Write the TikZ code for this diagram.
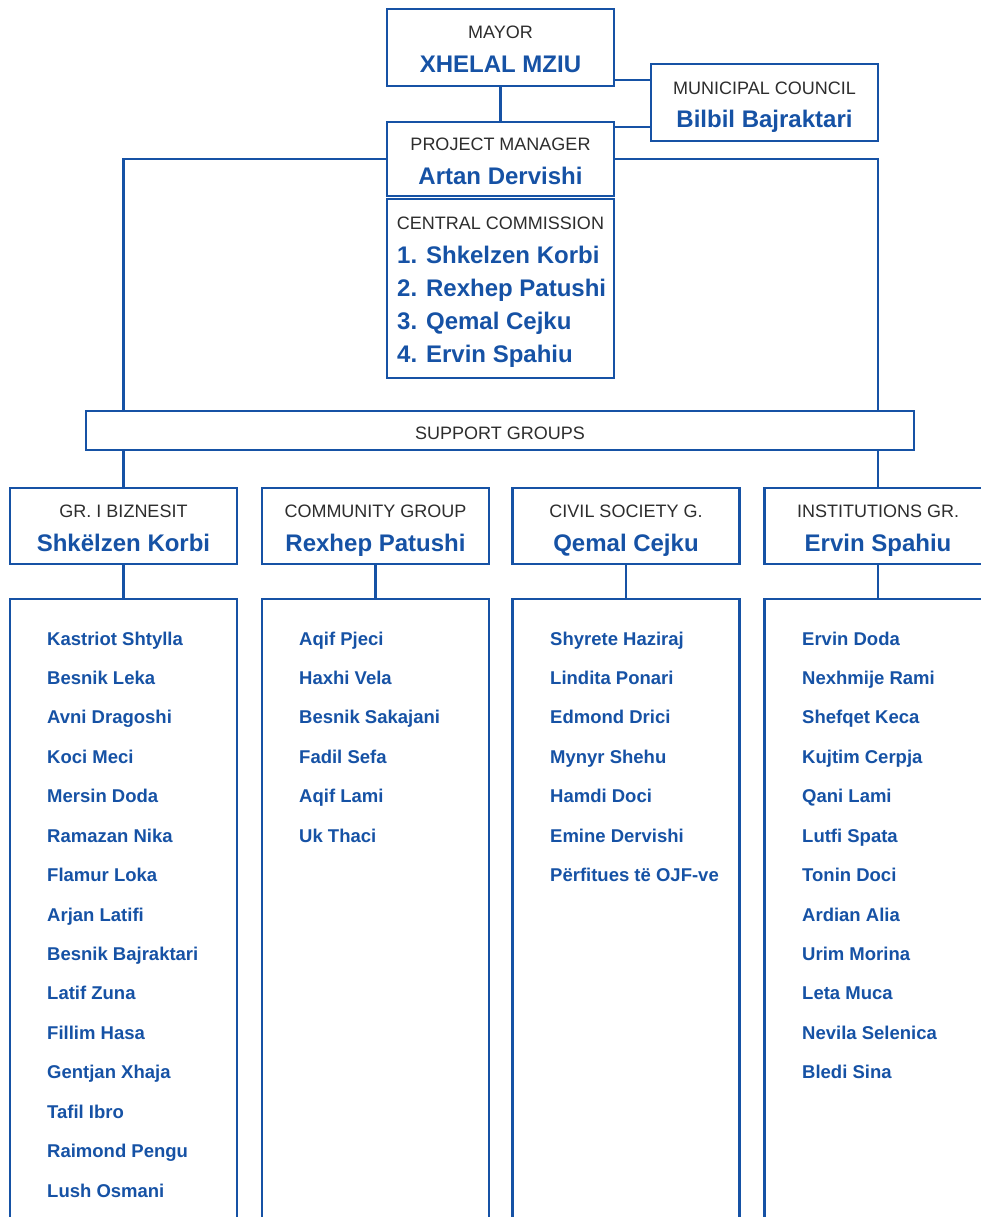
\documentclass[tikz,border=0pt]{standalone}
\usepackage{fontspec}
\setmainfont{Liberation Sans}
\definecolor{oblue}{RGB}{22,82,165}
\definecolor{otext}{RGB}{45,45,45}
\begin{document}
\begin{tikzpicture}[x=1pt,y=-1pt,
  box/.style={draw=oblue,line width=2.8pt,rectangle,inner sep=0pt,fill=white},
  conn/.style={draw=oblue,line width=2.8pt},
  role/.style={text=otext,font=\fontsize{18}{20}\selectfont,anchor=base,inner sep=0pt},
  head/.style={text=oblue,font=\fontsize{24}{28}\selectfont\bfseries,anchor=base,inner sep=0pt},
  cmem/.style={text=oblue,font=\fontsize{24}{28}\selectfont\bfseries,anchor=base west,inner sep=0pt},
  member/.style={text=oblue,font=\fontsize{18.5}{20}\selectfont\bfseries,anchor=base west,inner sep=0pt}]
\clip (0,0) rectangle (981,1217);
\fill[white] (0,0) rectangle (981,1217);

% boxes
\node[box,minimum width=227pt,minimum height=77pt] (mayor) at (500.5,47.5) {};
\node[box,minimum width=227pt,minimum height=77pt] (council) at (764.5,102.5) {};
\node[box,minimum width=227pt,minimum height=74pt] (pm) at (500.5,159) {};
\node[box,minimum width=227pt,minimum height=179pt] (comm) at (500.5,288.5) {};
\node[box,minimum width=828pt,minimum height=39pt] (sg) at (500,430.5) {};
\node[box,minimum width=227pt,minimum height=76pt] (g1) at (123.5,526) {};
\node[box,minimum width=227pt,minimum height=76pt] (g2) at (375.5,526) {};
\node[box,minimum width=227pt,minimum height=76pt] (g3) at (626,526) {};
\node[box,minimum width=227pt,minimum height=76pt] (g4) at (878,526) {};
\node[box,minimum width=227pt,minimum height=640pt] (l1) at (123.5,919) {};
\node[box,minimum width=227pt,minimum height=640pt] (l2) at (375.5,919) {};
\node[box,minimum width=227pt,minimum height=640pt] (l3) at (626,919) {};
\node[box,minimum width=227pt,minimum height=640pt] (l4) at (878,919) {};

% connectors
\coordinate (ya) at (0,80);
\coordinate (yb) at (0,127);
\draw[conn] (mayor.south) -- (pm.north);
\draw[conn] (mayor.east |- ya) -- (council.west |- ya);
\draw[conn] (pm.east |- yb) -- (council.west |- yb);
\draw[conn] (pm.west) -| (sg.north -| g1.north);
\draw[conn] (pm.east) -| (sg.north -| g4.north);
\draw[conn] (sg.south -| g1.north) -- (g1.north);
\draw[conn] (sg.south -| g4.north) -- (g4.north);
\draw[conn] (g1.south) -- (l1.north);
\draw[conn] (g2.south) -- (l2.north);
\draw[conn] (g3.south) -- (l3.north);
\draw[conn] (g4.south) -- (l4.north);

% texts
\node[role] (tmayor) at (500.5,39) {MAYOR};
\node[head] (nmayor) at (500.5,73) {XHELAL MZIU};
\node[role] (tcouncil) at (764.5,95) {MUNICIPAL COUNCIL};
\node[head] (ncouncil) at (764.5,128) {Bilbil Bajraktari};
\node[role] (tpm) at (500.5,151) {PROJECT MANAGER};
\node[head] (npm) at (500.5,185) {Artan Dervishi};
\node[role] (tcomm) at (500.5,229) {CENTRAL COMMISSION};
\node[cmem] (c1) at (397,263) {1. Shkelzen Korbi};
\node[cmem] (c2) at (397,296) {2. Rexhep Patushi};
\node[cmem] (c3) at (397,329) {3. Qemal Cejku};
\node[cmem] (c4) at (397,362) {4. Ervin Spahiu};
\node[role] (tsg) at (500,439) {SUPPORT GROUPS};

\node[role] (tg1) at (123.5,517) {GR. I BIZNESIT};
\node[head] (ng1) at (123.5,551) {Shkëlzen Korbi};
\node[role] (tg2) at (375.5,517) {COMMUNITY GROUP};
\node[head] (ng2) at (375.5,551) {Rexhep Patushi};
\node[role] (tg3) at (626,517) {CIVIL SOCIETY G.};
\node[head] (ng3) at (626,551) {Qemal Cejku};
\node[role] (tg4) at (878,517) {INSTITUTIONS GR.};
\node[head] (ng4) at (878,551) {Ervin Spahiu};

% members
\foreach \n [count=\i] in {Kastriot Shtylla,Besnik Leka,Avni Dragoshi,Koci Meci,Mersin Doda,Ramazan Nika,Flamur Loka,Arjan Latifi,Besnik Bajraktari,Latif Zuna,Fillim Hasa,Gentjan Xhaja,Tafil Ibro,Raimond Pengu,Lush Osmani}
  \node[member] (ma\i) at (47,{645+(\i-1)*39.43}) {\n};
\foreach \n [count=\i] in {Aqif Pjeci,Haxhi Vela,Besnik Sakajani,Fadil Sefa,Aqif Lami,Uk Thaci}
  \node[member] (mb\i) at (299,{645+(\i-1)*39.43}) {\n};
\foreach \n [count=\i] in {Shyrete Haziraj,Lindita Ponari,Edmond Drici,Mynyr Shehu,Hamdi Doci,Emine Dervishi,Përfitues të OJF-ve}
  \node[member] (mc\i) at (550,{645+(\i-1)*39.43}) {\n};
\foreach \n [count=\i] in {Ervin Doda,Nexhmije Rami,Shefqet Keca,Kujtim Cerpja,Qani Lami,Lutfi Spata,Tonin Doci,Ardian Alia,Urim Morina,Leta Muca,Nevila Selenica,Bledi Sina}
  \node[member] (md\i) at (802,{645+(\i-1)*39.43}) {\n};
\end{tikzpicture}
\end{document}
